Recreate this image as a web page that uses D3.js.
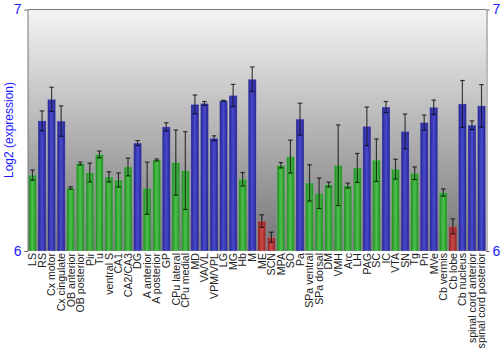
<!DOCTYPE html>
<html><head><meta charset="utf-8">
<script src="https://cdn.jsdelivr.net/npm/d3@7/dist/d3.min.js"></script>
<style>body{margin:0;background:#fff}svg{display:block}</style>
</head><body><svg id="c" width="500" height="350"></svg>
<script>
const categories = ["LS","RS","Cx motor","Cx cingulate","OB anterior","OB posterior","Pir","Tu","ventral S","CA1","CA2/CA3","DG","A anterior","A posterior","GP","CPu lateral","CPu medial","MD","VA/VL","VPM/VPL","LG","MG","Hb","M","ME","SCN","MPA","SO","Pa","SPa ventral","SPa dorsal","DM","VMH","Arc","LH","PAG","SC","IC","VTA","SN","Tg","Pn","MVe","Cb vermis","Cb lobe","Cb nucleus","spinal cord anterior","spinal cord posterior"];
const values = [6.314,6.539,6.628,6.538,6.261,6.362,6.325,6.400,6.307,6.294,6.348,6.447,6.260,6.377,6.514,6.366,6.333,6.607,6.611,6.467,6.622,6.644,6.297,6.711,6.124,6.057,6.355,6.391,6.546,6.282,6.239,6.275,6.355,6.271,6.344,6.516,6.376,6.596,6.339,6.495,6.322,6.532,6.595,6.242,6.102,6.609,6.521,6.601];
const errors = [0.021,0.041,0.050,0.063,0.005,0.006,0.039,0.014,0.021,0.029,0.037,0.010,0.108,0.004,0.017,0.135,0.161,0.039,0.008,0.010,0.002,0.046,0.028,0.051,0.026,0.021,0.011,0.068,0.066,0.075,0.063,0.010,0.167,0.010,0.060,0.080,0.088,0.023,0.041,0.072,0.026,0.031,0.030,0.015,0.031,0.097,0.018,0.088];
const groups = ["g","b","b","b","g","g","g","g","g","g","g","b","g","g","b","g","g","b","b","b","b","b","g","b","r","r","g","g","b","g","g","g","g","g","g","b","g","b","g","b","g","b","b","g","r","b","b","b"];
const yTicks = [6,7];

const svg = d3.select("#c");
const L = 28, R = 486, T = 9.5, B = 251;
const defs = svg.append("defs");
const bg = defs.append("linearGradient").attr("id","bg").attr("x1",0).attr("y1",0).attr("x2",0).attr("y2",1);
bg.append("stop").attr("offset","0%").attr("stop-color","#f4f4f4");
bg.append("stop").attr("offset","100%").attr("stop-color","#747474");
const cols = {b:["#22228a","#4a4ad0"], g:["#1f8a1f","#4cc04c"], r:["#8a1f1f","#d04a4a"]};
Object.entries(cols).forEach(([k,[d,l]])=>{
  const g = defs.append("linearGradient").attr("id","grad_"+k).attr("x1",0).attr("y1",0).attr("x2",1).attr("y2",0);
  g.append("stop").attr("offset","0%").attr("stop-color",d);
  g.append("stop").attr("offset","50%").attr("stop-color",l);
  g.append("stop").attr("offset","100%").attr("stop-color",d);
});

const x = d3.scaleBand().domain(categories).range([L,R]).paddingInner(0.16).paddingOuter(0.05);
const y = d3.scaleLinear().domain([6,7]).range([B,T]);

svg.append("rect").attr("x",L).attr("y",T).attr("width",R-L).attr("height",B-T).attr("fill","url(#bg)");
svg.append("line").attr("x1",L).attr("x2",R).attr("y1",T).attr("y2",T).attr("stroke","#777");

const data = categories.map((c,i)=>({c,v:values[i],e:errors[i],g:groups[i]}));
svg.selectAll("rect.bar").data(data).join("rect").attr("class","bar")
  .attr("x",d=>x(d.c)).attr("width",x.bandwidth())
  .attr("y",d=>y(d.v)).attr("height",d=>B-y(d.v))
  .attr("fill",d=>"url(#grad_"+d.g+")")
  .attr("stroke","rgba(200,200,220,0.35)").attr("stroke-width",0.8);

const eb = svg.selectAll("g.err").data(data).join("g").attr("class","err")
  .attr("stroke","#000").attr("stroke-opacity",0.7).attr("stroke-width",1.2);
eb.append("line").attr("x1",d=>x(d.c)+x.bandwidth()/2).attr("x2",d=>x(d.c)+x.bandwidth()/2)
  .attr("y1",d=>y(d.v+d.e)).attr("y2",d=>y(d.v-d.e));
eb.append("line").attr("x1",d=>x(d.c)+x.bandwidth()/2-2.3).attr("x2",d=>x(d.c)+x.bandwidth()/2+2.3)
  .attr("y1",d=>y(d.v+d.e)).attr("y2",d=>y(d.v+d.e));
eb.append("line").attr("x1",d=>x(d.c)+x.bandwidth()/2-2.3).attr("x2",d=>x(d.c)+x.bandwidth()/2+2.3)
  .attr("y1",d=>y(d.v-d.e)).attr("y2",d=>y(d.v-d.e));

const la = svg.append("g").attr("transform",`translate(${L-0.5},0)`)
  .call(d3.axisLeft(y).tickValues(yTicks).tickFormat(d3.format("d")).tickSize(3).tickSizeOuter(0));
const ra = svg.append("g").attr("transform",`translate(${R+0.5},0)`)
  .call(d3.axisRight(y).tickValues(yTicks).tickFormat(d3.format("d")).tickSize(3).tickSizeOuter(0));
[la,ra].forEach(a=>{
  a.select(".domain").attr("stroke","#777");
  a.selectAll(".tick line").attr("stroke","#555");
  a.selectAll(".tick text").attr("fill","#1a1aff").attr("font-family","Liberation Sans, Arial, sans-serif").attr("font-size",14);
});

svg.append("text").attr("transform","translate(13,130) rotate(-90)").attr("text-anchor","middle")
  .attr("fill","#1a1aff").attr("font-family","Liberation Sans, Arial, sans-serif").attr("font-size",12)
  .text("Log2 (expression)");

svg.append("g").selectAll("text").data(categories).join("text")
  .attr("transform",d=>`translate(${x(d)+x.bandwidth()/2+3.8},${B+2}) rotate(-90)`)
  .attr("text-anchor","end").attr("fill","#222")
  .attr("font-family","Liberation Sans, Arial, sans-serif").attr("font-size",10.6)
  .text(d=>d);
</script></body></html>
